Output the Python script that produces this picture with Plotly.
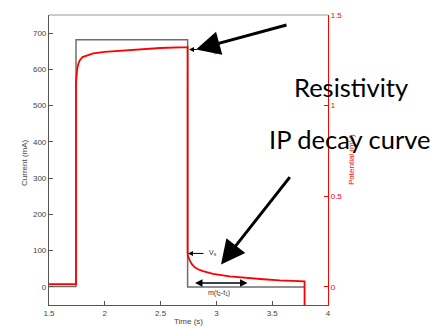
import plotly.graph_objects as go

# Transmitted current (square wave), mA
cur_t = [1.5, 1.742, 1.742, 2.742, 2.742, 3.79]
cur_i = [1, 1, 682, 682, 0, 0]

# Measured potential, V (right axis)
pot_t = [1.5, 1.742, 1.742, 1.745, 1.752, 1.765, 1.778, 1.80, 1.85, 1.898, 2.0,
         2.197, 2.496, 2.736, 2.742, 2.742, 2.745, 2.761, 2.78, 2.806, 2.84,
         2.880, 2.970, 3.119, 3.269, 3.42, 3.567, 3.776, 3.79, 3.79]
pot_v = [0.015, 0.015, 1.124, 1.16, 1.20, 1.235, 1.252, 1.268, 1.28, 1.288, 1.297,
         1.306, 1.318, 1.323, 1.324, 0.19, 0.17, 0.146, 0.125, 0.108, 0.096,
         0.087, 0.072, 0.058, 0.049, 0.042, 0.036, 0.031, 0.031, -0.2]

x_ticks = [1.5, 2, 2.5, 3, 3.5, 4]
x_labels = ["1.5", "2", "2.5", "3", "3.5", "4"]
y_ticks = [0, 100, 200, 300, 400, 500, 600, 700]
y2_ticks = [0, 0.5, 1, 1.5]
y2_labels = ["0", "0.5", "1", "1.5"]

W, H = 438, 329
L, R, T, B = 49, 328, 11, 305


def px(x):
    return (x - L) / (R - L)


def py(y):
    return (B - y) / (B - T)


fig = go.Figure()
fig.add_trace(go.Scatter(x=cur_t, y=cur_i, mode="lines",
                         line=dict(color="#6e6e6e", width=1.5), showlegend=False))
fig.add_trace(go.Scatter(x=pot_t, y=pot_v, mode="lines", yaxis="y2",
                         line=dict(color="#ff0000", width=1.8), showlegend=False))

tickfont = dict(family="Liberation Sans, Arial", size=8, color="#444")
fig.update_layout(
    width=W, height=H,
    margin=dict(l=L, r=W - R, t=T, b=H - B),
    paper_bgcolor="white", plot_bgcolor="white",
    xaxis=dict(range=[1.5, 4], tickvals=x_ticks, ticktext=x_labels,
               showgrid=False, zeroline=False, showline=True, linecolor="#555",
               linewidth=1.2, ticks="inside", ticklen=4, tickcolor="#555",
               tickfont=tickfont),
    yaxis=dict(range=[-50, 750], tickvals=y_ticks, showgrid=False, zeroline=False,
               showline=True, linecolor="#555", linewidth=1.2, ticks="inside",
               ticklen=4, tickcolor="#555", tickfont=tickfont),
    yaxis2=dict(range=[-0.1, 1.5], tickvals=y2_ticks, ticktext=y2_labels,
                overlaying="y", side="right", showgrid=False, zeroline=False,
                showline=True, linecolor="#ff0000", linewidth=1.2, ticks="inside",
                ticklen=4, tickcolor="#ff0000",
                tickfont=dict(family="Liberation Sans, Arial", size=8, color="#ff0000")),
)

# top border of the box
fig.add_shape(type="line", xref="paper", yref="paper", x0=0, x1=1, y0=1, y1=1,
              line=dict(color="#999", width=1.2))

small = dict(family="Liberation Sans, Arial", size=8, color="#444")
ann = []


def label(text, x, y, font, **kw):
    ann.append(dict(text=text, x=px(x), y=py(y), xref="paper", yref="paper",
                    xanchor="center", yanchor="middle", showarrow=False, font=font, **kw))


def arrow(hx, hy, dx, dy, **kw):
    ann.append(dict(text="", x=px(hx), y=py(hy), xref="paper", yref="paper",
                    ax=dx, ay=dy, axref="pixel", ayref="pixel", showarrow=True,
                    arrowcolor="black", **kw))


# axis titles
label("Current (mA)", 25, 160, small, textangle=-90)
label("Time (s)", 188, 322, small)
label("Potential (mV)", 351, 158,
      dict(family="Liberation Sans, Arial", size=8, color="#ff0000"), textangle=-90)

big = dict(family="Lato, Open Sans", size=25.5, color="black")
label("Resistivity", 351, 84, big)
label("IP decay curve", 350, 137, big)

# thin label arrows
arrow(189, 46, 9, 0, arrowhead=2, arrowsize=1, arrowwidth=1)
label("p", 216, 49, dict(family="Liberation Sans", size=6, color="#555"))
arrow(188, 252.7, 17, 0, arrowhead=2, arrowsize=1, arrowwidth=1)
label("V<sub>s</sub>", 213, 252, dict(family="Liberation Sans", size=7, color="#333"))
arrow(247.5, 282.7, -54, 0, arrowhead=2, startarrowhead=2, arrowside="end+start",
      arrowsize=1, arrowwidth=1.5)
label("m(t<sub>2</sub>-t<sub>1</sub>)", 219, 293,
      dict(family="Liberation Sans", size=7, color="#333"))

# big pointing arrows
arrow(196, 46, 92, -25, arrowhead=2, arrowsize=1.6, arrowwidth=3)
arrow(221, 264, 70, -89, arrowhead=2, arrowsize=1.6, arrowwidth=3)

fig.update_layout(annotations=ann)
fig.write_html("out.html")
